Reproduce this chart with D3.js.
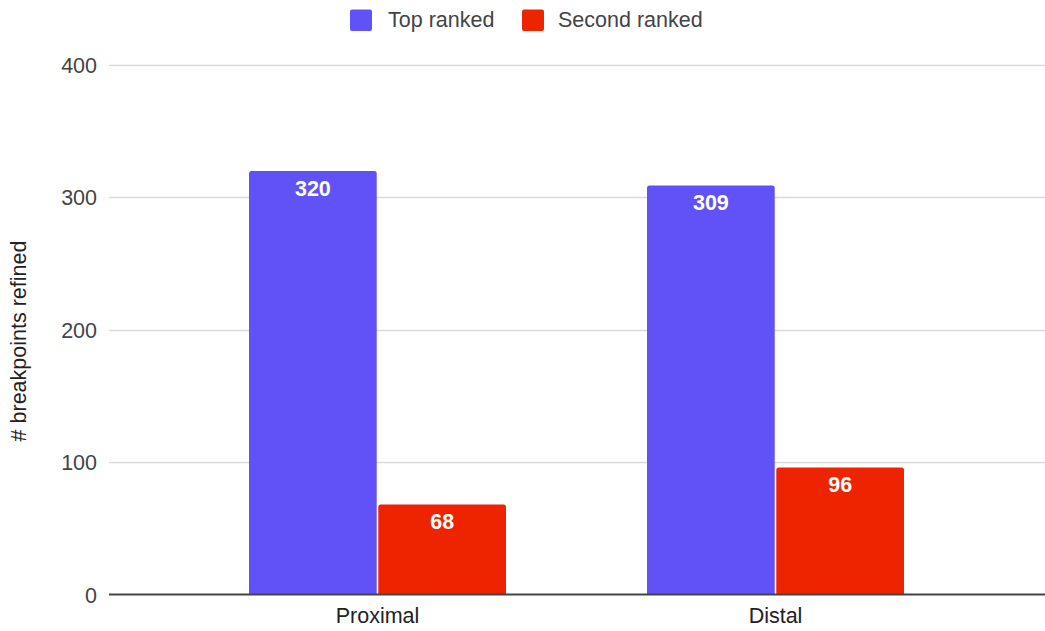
<!DOCTYPE html>
<html>
<head>
<meta charset="utf-8">
<script src="https://cdn.jsdelivr.net/npm/d3@7"></script>
<style>
  html, body { margin: 0; padding: 0; background: #fff; }
  svg { display: block; font-family: "Liberation Sans", Arial, sans-serif; }
</style>
</head>
<body>
<svg id="chart" width="1045" height="631"></svg>
<script>
// Data
const categories = ["Proximal", "Distal"];
const seriesNames = ["Top ranked", "Second ranked"];
const topRanked = [320, 309];
const secondRanked = [68, 96];
const yTicks = [0, 100, 200, 300, 400];
const yTitle = "# breakpoints refined";

const colors = ["#6152f8", "#ee2400"];
const seriesValues = [topRanked, secondRanked];
const fontSize = 21.5;

const svg = d3.select("#chart");
const plotLeft = 109, plotRight = 1045;
const yBottom = 594.5, yTop = 65;

const y = d3.scaleLinear().domain([0, 400]).range([yBottom, yTop]);
const x0 = d3.scaleBand().domain(categories).range([178.5, 974.5]).paddingInner(0).paddingOuter(0);
const groupWidth = 257;
const x1 = d3.scaleBand().domain(seriesNames).range([0, groupWidth]).paddingInner(0.012);

// Gridlines
const grid = svg.append("g");
grid.selectAll("line").data(yTicks.filter(t => t !== 0)).join("line")
  .attr("x1", plotLeft).attr("x2", plotRight)
  .attr("y1", d => Math.round(y(d)) + 0.5).attr("y2", d => Math.round(y(d)) + 0.5)
  .attr("stroke", "#d9d9d9").attr("stroke-width", 1.3);

// Y axis tick labels
const yAxis = d3.axisLeft(y).tickValues(yTicks).tickSize(0).tickPadding(0);
const yg = svg.append("g").attr("transform", `translate(97,0)`).call(yAxis);
yg.select(".domain").remove();
yg.selectAll("text").attr("font-size", fontSize).attr("fill", "#444")
  .attr("font-family", "Liberation Sans, Arial, sans-serif").attr("dy", "0.35em");

// Y axis title
svg.append("text")
  .attr("transform", `translate(26,341) rotate(-90)`)
  .attr("text-anchor", "middle")
  .attr("font-size", fontSize).attr("fill", "#222")
  .text(yTitle);

// Bars with slightly rounded top corners
function barPath(x, yt, w, yb, r) {
  return `M${x},${yb}V${yt + r}Q${x},${yt} ${x + r},${yt}H${x + w - r}Q${x + w},${yt} ${x + w},${yt + r}V${yb}Z`;
}

const groups = svg.append("g").selectAll("g").data(categories).join("g")
  .attr("transform", d => `translate(${x0(d) + (x0.bandwidth() - groupWidth) / 2},0)`);

groups.each(function(cat, ci) {
  const g = d3.select(this);
  const data = seriesNames.map((s, si) => ({ s, si, v: seriesValues[si][ci] }));
  g.selectAll("path").data(data).join("path")
    .attr("d", d => barPath(x1(d.s), y(d.v), x1.bandwidth(), y(0), 2.5))
    .attr("fill", d => colors[d.si]);
  g.selectAll("text").data(data).join("text")
    .attr("x", d => x1(d.s) + x1.bandwidth() / 2)
    .attr("y", d => y(d.v) + 25)
    .attr("text-anchor", "middle")
    .attr("font-size", fontSize).attr("font-weight", "bold").attr("fill", "#fff")
    .text(d => d.v);
});

// Baseline
svg.append("line")
  .attr("x1", plotLeft).attr("x2", plotRight)
  .attr("y1", y(0)).attr("y2", y(0))
  .attr("stroke", "#444").attr("stroke-width", 2);

// X axis labels
const xAxis = d3.axisBottom(x0).tickSize(0).tickPadding(0);
const xg = svg.append("g").attr("transform", `translate(0,${y(0)})`).call(xAxis);
xg.select(".domain").remove();
xg.selectAll("text").attr("font-size", fontSize).attr("fill", "#222")
  .attr("font-family", "Liberation Sans, Arial, sans-serif")
  .attr("dy", null).attr("y", 28.5);

// Legend
const legendItems = [
  { name: seriesNames[0], color: colors[0], x: 350, tx: 388 },
  { name: seriesNames[1], color: colors[1], x: 522, tx: 558 }
];
const lg = svg.append("g");
legendItems.forEach(it => {
  lg.append("rect").attr("x", it.x).attr("y", 9.5).attr("width", 22).attr("height", 21.5)
    .attr("rx", 2).attr("fill", it.color);
  lg.append("text").attr("x", it.tx).attr("y", 26.5)
    .attr("font-size", fontSize).attr("fill", "#444").text(it.name);
});
</script>
</body>
</html>
